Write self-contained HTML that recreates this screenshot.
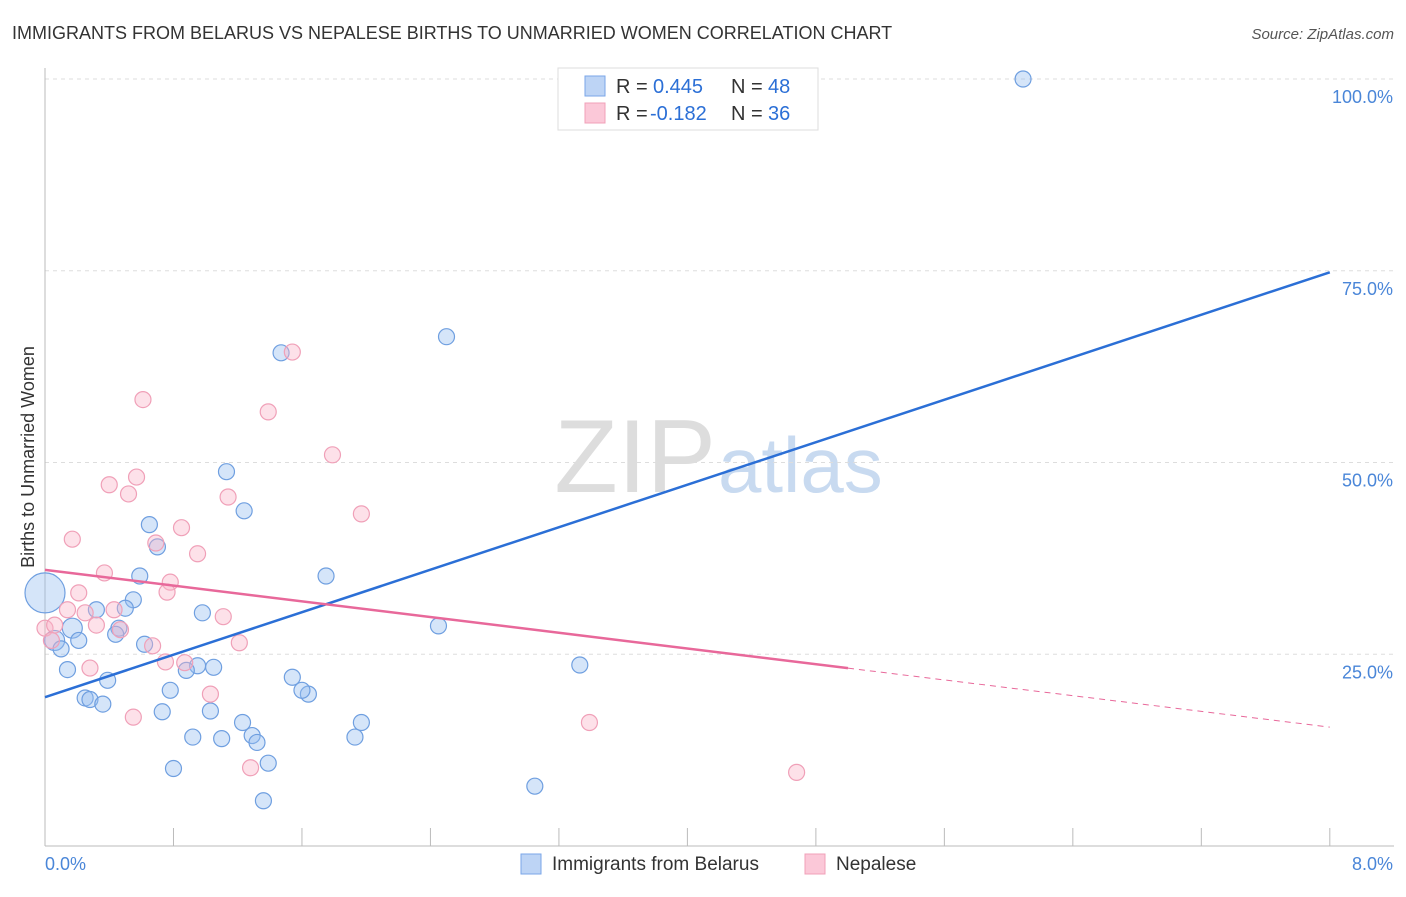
<!DOCTYPE html>
<html><head><meta charset="utf-8"><style>
body{margin:0;background:#fff;font-family:"Liberation Sans",sans-serif}
svg text{font-family:"Liberation Sans",sans-serif}
</style></head><body>
<svg id="c" width="1406" height="892">
<text x="12" y="39" font-size="18" fill="#333">IMMIGRANTS FROM BELARUS VS NEPALESE BIRTHS TO UNMARRIED WOMEN CORRELATION CHART</text>
<text x="1394" y="39" font-size="15" fill="#555" font-style="italic" text-anchor="end">Source: ZipAtlas.com</text>
<text x="716" y="492" font-size="104" fill="#ddd" text-anchor="end" font-family="Liberation Serif">ZIP</text>
<text x="718" y="492" font-size="78" fill="#c8daf0">atlas</text>
<text transform="translate(34,457) rotate(-90)" font-size="18" fill="#333" text-anchor="middle">Births to Unmarried Women</text>
<g id="grid"></g><g id="pts"></g><g id="lines"></g>
<g>
<rect x="558" y="68" width="260" height="62" fill="#fff" stroke="#ddd"/>
<rect x="585" y="76" width="20" height="20" fill="#bdd4f5" stroke="#7aa6e8"/>
<rect x="585" y="103" width="20" height="20" fill="#fbc8d8" stroke="#f0a0b8"/>
<text x="616" y="93" font-size="20" fill="#333">R =</text>
<text x="653" y="93" font-size="20" fill="#2b6fd6">0.445</text>
<text x="731" y="93" font-size="20" fill="#333">N =</text>
<text x="768" y="93" font-size="20" fill="#2b6fd6">48</text>
<text x="616" y="120" font-size="20" fill="#333">R =</text>
<text x="650" y="120" font-size="20" fill="#2b6fd6">-0.182</text>
<text x="731" y="120" font-size="20" fill="#333">N =</text>
<text x="768" y="120" font-size="20" fill="#2b6fd6">36</text>
</g>
<g>
<rect x="521" y="854" width="20" height="20" fill="#bdd4f5" stroke="#7aa6e8"/>
<text x="552" y="870" font-size="19" fill="#333">Immigrants from Belarus</text>
<rect x="805" y="854" width="20" height="20" fill="#fbc8d8" stroke="#f0a0b8"/>
<text x="836" y="870" font-size="19" fill="#333">Nepalese</text>
</g>
</svg>
<script>
const belarusX=[6.09,2.50,1.47,1.13,1.24,0.65,0.70,0.59,1.75,0.55,0.50,0.32,0.98,0.17,0.46,0.44,0.06,0.21,0.62,0.10,2.45,0.95,1.05,0.88,0.14,0.39,1.54,1.64,1.60,0.78,0.25,0.28,0.36,0.73,1.03,1.23,0.92,1.10,1.29,1.32,1.93,1.97,3.33,0.80,1.39,1.36,3.05,0.0];
const belarusY=[100,66.4,64.3,48.8,43.7,41.9,39.0,35.2,35.2,32.1,31.0,30.8,30.4,28.4,28.4,27.6,26.8,26.8,26.3,25.7,28.7,23.5,23.3,22.9,23.0,21.6,22.0,19.8,20.3,20.3,19.3,19.1,18.5,17.5,17.6,16.1,14.2,14.0,14.4,13.5,14.2,16.1,23.6,10.1,10.8,5.9,7.8,33.0];
const belarusR=[8,8,8,8,8,8,8,8,8,8,8,8,8,10,8,8,10,8,8,8,8,8,8,8,8,8,8,8,8,8,8,8,8,8,8,8,8,8,8,8,8,8,8,8,8,8,8,20];
const nepalX=[1.54,0.61,1.39,1.79,0.57,0.40,0.52,1.14,1.97,0.17,0.85,0.69,0.95,0.37,0.78,0.21,0.76,0.14,0.43,0.25,1.11,0.32,0.47,0.0,0.06,0.04,0.67,1.21,0.75,0.87,0.28,1.03,0.55,1.28,3.39,4.68];
const nepalY=[64.4,58.2,56.6,51.0,48.1,47.1,45.9,45.5,43.3,40.0,41.5,39.5,38.1,35.6,34.4,33.0,33.1,30.8,30.8,30.4,29.9,28.8,28.2,28.4,28.8,26.8,26.1,26.5,24.0,23.9,23.2,19.8,16.8,10.2,16.1,9.6];
const gridY=[25,50,75,100], yLbl=["25.0%","50.0%","75.0%","100.0%"];
const blueFit=[19.4,74.8], pinkFit=[36.0,15.5];
const X=v=>45+v*160.6, Y=v=>846-v*7.67;
const ns="http://www.w3.org/2000/svg", svg=document.getElementById('c');
function mk(t,a,p){const e=document.createElementNS(ns,t);for(const k in a)e.setAttribute(k,a[k]);(p||svg).appendChild(e);return e;}
const g=document.getElementById('grid');
gridY.forEach((v,i)=>{
 const l=mk('line',{x1:45,x2:1394,y1:Y(v),y2:Y(v),stroke:'#ddd','stroke-dasharray':'4,4'},g);
 
 
 const t=mk('text',{x:1393,y:Y(v)+24,'font-size':18,fill:'#4a86d8','text-anchor':'end'},g);t.textContent=yLbl[i];
 
 
});
mk('line',{x1:45,x2:45,y1:68,y2:846,stroke:'#bbb'},g);
mk('line',{x1:45,x2:1394,y1:846,y2:846,stroke:'#bbb'},g);
for(let i=0;i<=10;i++){mk('line',{x1:X(i*0.8),x2:X(i*0.8),y1:828,y2:846,stroke:'#bbb'},g);}
let t0=mk('text',{x:45,y:870,'font-size':18,fill:'#4a86d8'},g);t0.textContent='0.0%';


let t1=mk('text',{x:1393,y:870,'font-size':18,fill:'#4a86d8','text-anchor':'end'},g);t1.textContent='8.0%';


const P=document.getElementById('pts');
belarusX.forEach((x,i)=>{const c=mk('circle',{cx:X(x),cy:Y(belarusY[i]),r:belarusR[i],fill:'rgba(150,190,240,0.4)',stroke:'#6f9fe0','stroke-width':1.2},P);
 
 });
nepalX.forEach((x,i)=>{const c=mk('circle',{cx:X(x),cy:Y(nepalY[i]),r:8,fill:'rgba(250,180,200,0.4)',stroke:'#f0a0b8','stroke-width':1.2},P);
 
 });
const L=document.getElementById('lines');
const bl=mk('line',{x1:X(0),y1:Y(blueFit[0]),x2:X(8),y2:Y(blueFit[1]),stroke:'#2b6fd6','stroke-width':2.5},L);


const pm=pinkFit[0]+(pinkFit[1]-pinkFit[0])*(5.0/8);
const pl=mk('line',{x1:X(0),y1:Y(pinkFit[0]),x2:X(5.0),y2:Y(pm),stroke:'#e8689a','stroke-width':2.5},L);


const pd=mk('line',{x1:X(5.0),y1:Y(pm),x2:X(8),y2:Y(pinkFit[1]),stroke:'#e8689a','stroke-width':1,'stroke-dasharray':'6,5'},L);


</script>
</body></html>
